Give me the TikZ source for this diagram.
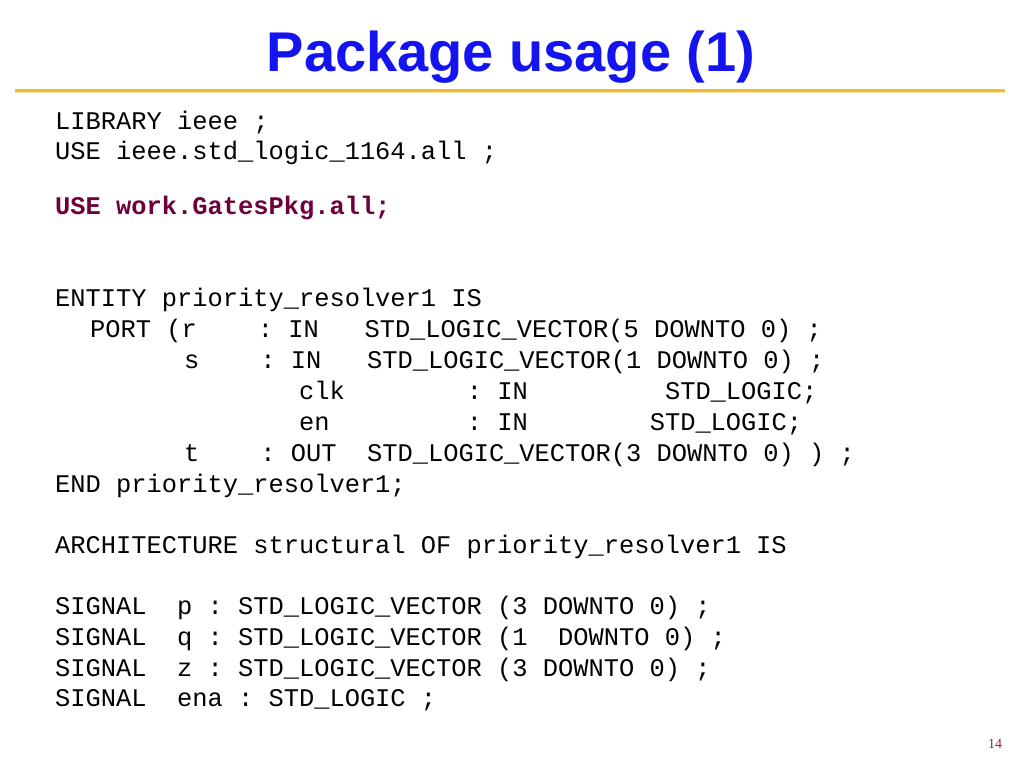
\documentclass[tikz,border=0pt]{standalone}
\usepackage{fontspec}
\setmainfont{Liberation Serif}
\setsansfont{Liberation Sans}
\setmonofont{Liberation Mono}
\definecolor{titleblue}{RGB}{20,20,240}
\definecolor{rulegold}{RGB}{235,190,50}
\definecolor{pkgred}{RGB}{110,0,60}
\definecolor{pagered}{RGB}{170,30,30}
\tikzset{code/.style={anchor=base west, inner sep=0pt, font=\ttfamily\fontsize{25.4}{30}\selectfont}}
\begin{document}
\begin{tikzpicture}[x=1pt,y=-1pt]
\useasboundingbox (0,0) rectangle (1024,768);
\fill[white] (0,0) rectangle (1024,768);
% title
\node[anchor=base, inner sep=0pt, font=\sffamily\bfseries\fontsize{56}{60}\selectfont, text=titleblue] (title) at (511,71) {Package usage (1)};
\draw[rulegold, line width=3pt] (15,90) -- (1005,90);
\draw[rulegold!40, line width=1pt] (15,92.5) -- (1005,92.5);
% code
\node[code] (l1) at (55,129) {LIBRARY~ieee~;};
\node[code] (l2) at (55,159) {USE~ieee.std\_logic\_1164.all~;};
\node[code, text=pkgred, font=\ttfamily\bfseries\fontsize{25.4}{30}\selectfont] (l3) at (55,214) {USE~work.GatesPkg.all;};
\node[code] (l4) at (55,306) {ENTITY~priority\_resolver1~IS};
\node[code] (l5) at (90,337) {PORT~(r~~~~:~IN~~~STD\_LOGIC\_VECTOR(5~DOWNTO~0)~;};
\node[code] (l6) at (184,368) {s~~~~:~IN~~~STD\_LOGIC\_VECTOR(1~DOWNTO~0)~;};
\node[code] (l7) at (299,399) {clk~~~~~~~~:~IN~~~~~~~~~STD\_LOGIC;};
\node[code] (l8) at (299,430) {en~~~~~~~~~:~IN~~~~~~~~STD\_LOGIC;};
\node[code] (l9) at (184,461) {t~~~~:~OUT~~STD\_LOGIC\_VECTOR(3~DOWNTO~0)~)~;};
\node[code] (l10) at (55,492) {END~priority\_resolver1;};
\node[code] (l11) at (55,553) {ARCHITECTURE~structural~OF~priority\_resolver1~IS};
\node[code] (l12) at (55,614) {SIGNAL~~p~:~STD\_LOGIC\_VECTOR~(3~DOWNTO~0)~;};
\node[code] (l13) at (55,645) {SIGNAL~~q~:~STD\_LOGIC\_VECTOR~(1~~DOWNTO~0)~;};
\node[code] (l14) at (55,676) {SIGNAL~~z~:~STD\_LOGIC\_VECTOR~(3~DOWNTO~0)~;};
\node[code] (l15) at (55,706) {SIGNAL~~ena~:~STD\_LOGIC~;};
% page number
\node[anchor=base, inner sep=0pt, font=\fontsize{14}{16}\selectfont, text=pagered] (page) at (995,748) {14};
\end{tikzpicture}
\end{document}
